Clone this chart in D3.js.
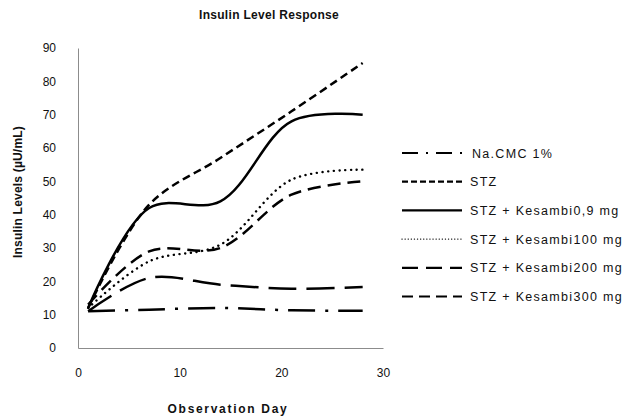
<!DOCTYPE html>
<html><head><meta charset="utf-8">
<script src="https://cdn.jsdelivr.net/npm/d3@7"></script>
<style>
html,body{margin:0;padding:0;background:#fff;}
text{font-family:"Liberation Sans",Arial,sans-serif;fill:#111;}
</style></head>
<body><svg id="c" width="628" height="416"></svg>
<script>
const days = [1, 7, 14, 21, 28];
const seriesNames = ["Na.CMC 1%", "STZ", "STZ + Kesambi0,9 mg", "STZ + Kesambi100 mg", "STZ + Kesambi200 mg", "STZ + Kesambi300 mg"];
const naCMC = [11, 11.5, 12, 11.3, 11.2];
const stz = [12, 43, 57, 71, 85.5];
const kes09 = [12, 42, 44, 68, 70];
const kes100 = [12, 26, 31, 50.5, 53.5];
const kes200 = [11, 21, 19, 17.8, 18.3];
const kes300 = [13, 29, 30, 46, 50];
const xTicks = [0, 10, 20, 30];
const yTicks = [0, 10, 20, 30, 40, 50, 60, 70, 80, 90];
const title = "Insulin Level Response";
const xLabel = "Observation Day";
const yLabel = "Insulin Levels (\u00b5U/mL)";

const allValues = [naCMC, stz, kes09, kes100, kes200, kes300];
const styles = [
  {dash: "27,10,3,10", ldash: "16,8,2,8", cap: "butt"},
  {dash: "8,4.5", ldash: "6,3", cap: "butt"},
  {dash: null, ldash: null, cap: "butt"},
  {dash: "0.1,5.6", ldash: "0.1,3", cap: "round", w: 2.4, lw: 1.4},
  {dash: "28,10", ldash: "16,8", cap: "butt"},
  {dash: "13,7", ldash: "11,6", cap: "butt"}
];

const svg = d3.select("#c");
const x = d3.scaleLinear().domain([0, 30]).range([78, 383]);
const y = d3.scaleLinear().domain([0, 90]).range([348, 48]);

svg.append("text").attr("x", 269).attr("y", 19).attr("text-anchor", "middle")
  .style("font-weight", "bold").style("font-size", "12px").style("letter-spacing", "0.3px").text(title);

const xAxis = svg.append("g").attr("transform", "translate(0,348)")
  .call(d3.axisBottom(x).tickValues(xTicks).tickSize(0).tickPadding(20));
const yAxis = svg.append("g").attr("transform", "translate(78,0)")
  .call(d3.axisLeft(y).tickValues(yTicks).tickSize(0).tickPadding(22));
[xAxis, yAxis].forEach(g => {
  g.select(".domain").attr("stroke", "#8c8c8c").attr("stroke-width", 1);
  g.selectAll("text").style("font-family", "'Liberation Sans',Arial,sans-serif")
    .style("font-size", "12px").attr("fill", "#111");
});

svg.append("text").attr("x", 228).attr("y", 413).attr("text-anchor", "middle")
  .style("font-weight", "bold").style("font-size", "12px").style("letter-spacing", "1.7px").text(xLabel);
svg.append("text").attr("transform", "translate(22,192) rotate(-90)").attr("text-anchor", "middle")
  .style("font-weight", "bold").style("font-size", "12px").style("letter-spacing", "0.2px").text(yLabel);

const line = d3.line().x(d => x(d[0])).y(d => y(d[1])).curve(d3.curveCatmullRom.alpha(0.5));

allValues.forEach((vals, i) => {
  const st = styles[i];
  svg.append("path")
    .attr("d", line(days.map((d, j) => [d, vals[j]])))
    .attr("fill", "none").attr("stroke", "#000")
    .attr("stroke-width", st.w || 2.5)
    .attr("stroke-linecap", st.cap)
    .attr("stroke-dasharray", st.dash);
});

const leg = svg.append("g");
seriesNames.forEach((name, i) => {
  const st = styles[i];
  const yy = 153 + i * 28.7;
  leg.append("line").attr("x1", 402).attr("x2", 462).attr("y1", yy).attr("y2", yy)
    .attr("stroke", "#000").attr("stroke-width", st.lw || 2.2)
    .attr("stroke-linecap", st.cap).attr("stroke-dasharray", st.ldash);
  leg.append("text").attr("x", i === 0 ? 472 : 470).attr("y", yy + 4.5)
    .style("font-size", "12.5px").style("letter-spacing", "1.3px").text(name);
});
</script></body></html>
